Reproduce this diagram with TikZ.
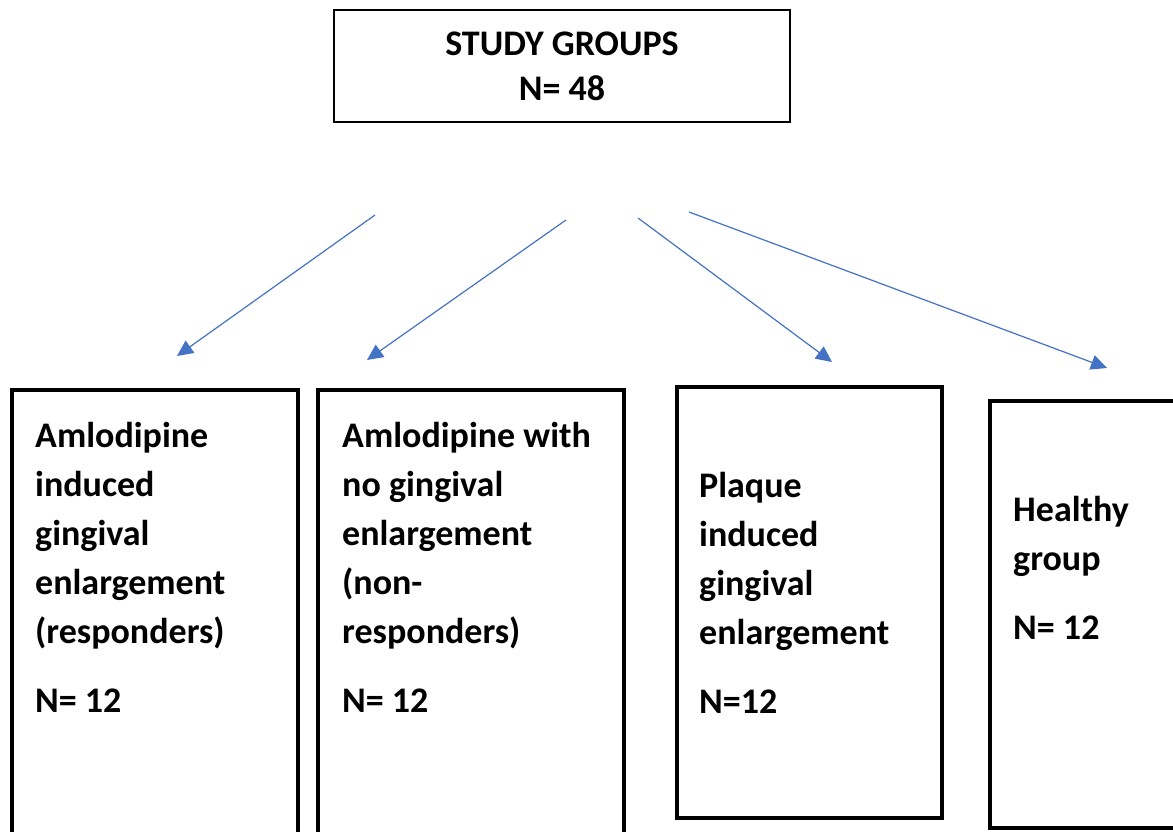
\documentclass[tikz,border=0pt]{standalone}
\usepackage{fontspec}
\setmainfont{Carlito}
\usetikzlibrary{arrows.meta}
\definecolor{arrowblue}{HTML}{4472C4}
\newcommand\boxlines[1]{\vtop{\hsize=300pt\parindent=0pt\raggedright\noindent #1}}
\tikzset{
  grpbox/.style={draw=black, line width=4pt, anchor=north west, inner sep=0pt, outer sep=0pt},
  grptext/.style={anchor=base west, inner sep=0pt, font=\fontsize{36}{49}\selectfont\bfseries},
  conn/.style={draw=arrowblue, line width=1.2pt, -{Triangle[length=16pt,width=15pt]}}
}
\begin{document}
\begin{tikzpicture}[x=1pt,y=-1pt]
\useasboundingbox (0,0) rectangle (1173,832);
% top box
\node[draw=black, line width=2pt, minimum width=456pt, minimum height=112pt, inner sep=0pt,
      align=center, font=\fontsize{36}{47}\selectfont\bfseries] (top) at (562,66) {\raisebox{-2pt}{STUDY GROUPS}\\N= 48};
% group boxes
\node[grpbox, minimum width=286pt, minimum height=470pt] (b1) at (12,390) {};
\node[grpbox, minimum width=306pt, minimum height=470pt] (b2) at (318,390) {};
\node[grpbox, minimum width=265pt, minimum height=431pt] (b3) at (677,387) {};
\node[grpbox, minimum width=220pt, minimum height=427pt] (b4) at (990,401) {};
% texts
\node[grptext] (t1) at (35,447) {\boxlines{Amlodipine\\induced\\gingival\\enlargement\\(responders)\par\vskip20pt N= 12}};
\node[grptext] (t2) at (342,447) {\boxlines{Amlodipine with\\no gingival\\enlargement\\(non-\\responders)\par\vskip20pt N= 12}};
\node[grptext] (t3) at (699,497) {\boxlines{Plaque\\induced\\gingival\\enlargement\par\vskip20pt N=12}};
\node[grptext] (t4) at (1013,521) {\boxlines{Healthy\\group\par\vskip20pt N= 12}};
% arrows
\coordinate (s1) at (375,215); \coordinate (e1) at (177,356);
\coordinate (s2) at (566,220); \coordinate (e2) at (367,360);
\coordinate (s3) at (638,218); \coordinate (e3) at (832,362);
\coordinate (s4) at (689,212); \coordinate (e4) at (1107,368);
\draw[conn] (s1) -- (e1);
\draw[conn] (s2) -- (e2);
\draw[conn] (s3) -- (e3);
\draw[conn] (s4) -- (e4);
\end{tikzpicture}
\end{document}
